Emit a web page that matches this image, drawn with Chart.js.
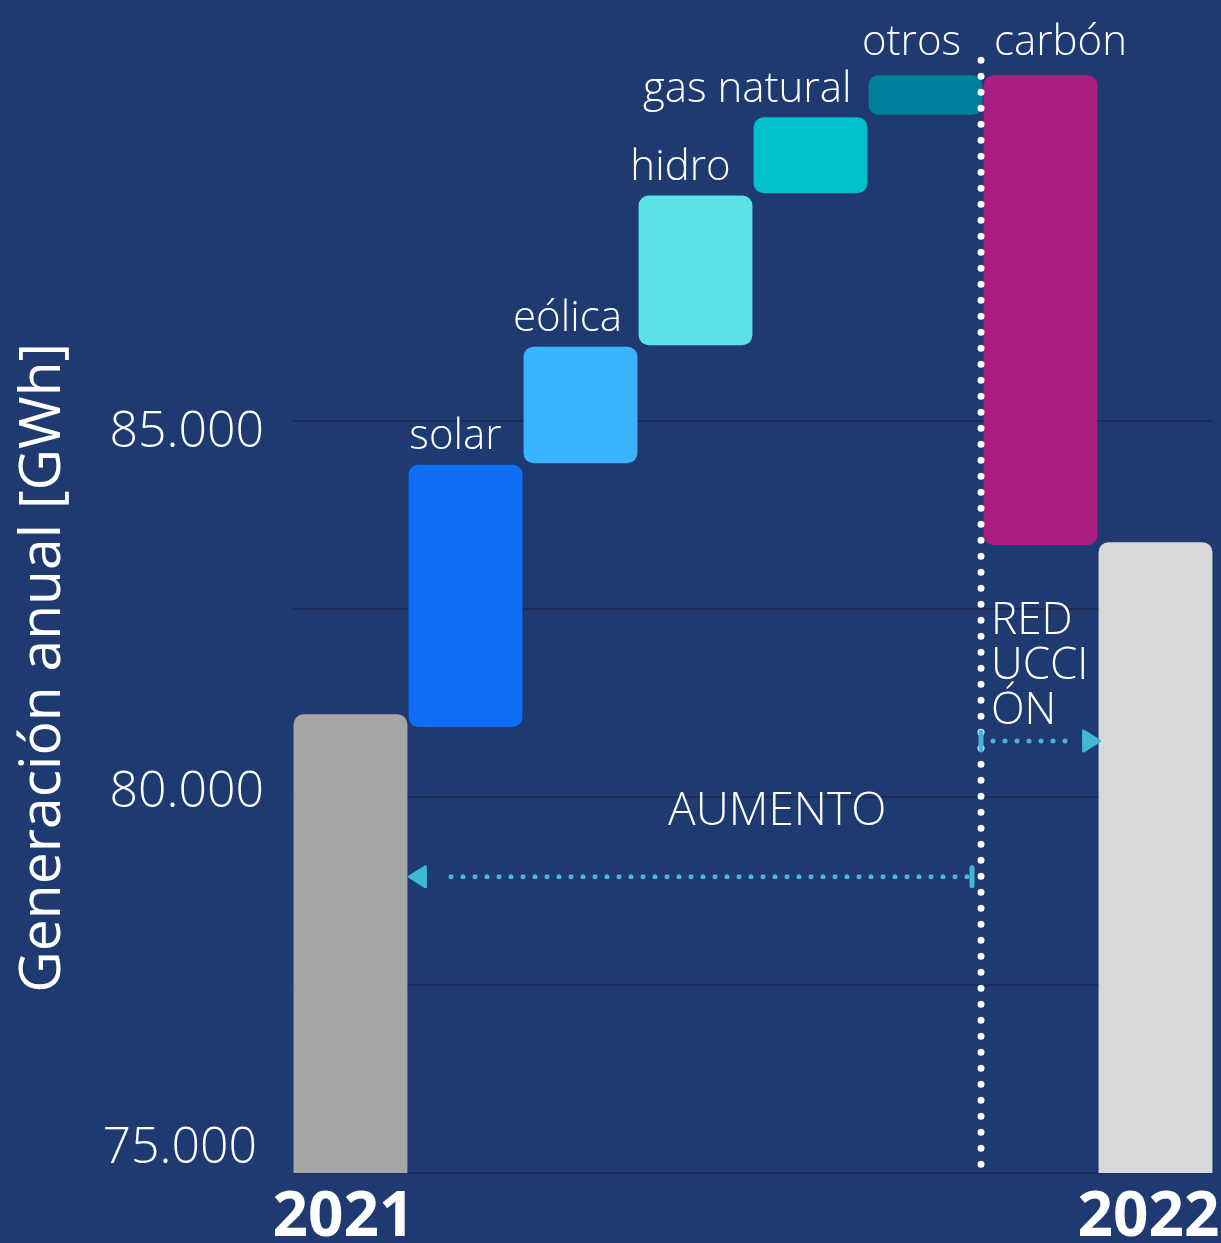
<!DOCTYPE html>
<html>
<head>
<meta charset="utf-8">
<script src="https://cdn.jsdelivr.net/npm/chart.js@4/dist/chart.umd.min.js"></script>
<style>
  html, body { margin: 0; padding: 0; background: #1f3a70; }
  #wrap { width: 1221px; height: 1243px; }
</style>
</head>
<body>
<div id="wrap"><canvas id="chart"></canvas></div>
<script>
// Generación anual 2021 -> 2022, cascada por fuente
const categories = ["2021", "solar", "eólica", "hidro", "gas natural", "otros", "carbón", "2022"];
const barStarts = [75000, 80930, 84440, 86010, 88030, 89070, 83350, 75000];
const barEnds = [81100, 84420, 85990, 88000, 89040, 89600, 89600, 83390];
const gridValues = [75000, 77500, 80000, 82500, 85000];
const yTickLabels = [75000, 80000, 85000];
const barColors = ["#a6a6a6", "#0f6ef5", "#39b4fe", "#5ce2e6", "#00c0cc", "#007f9a", "#a91e7f", "#d9d9d9"];

const bg = "#1f3a70";
const cyan = "#40b8d6";
const font = "'Open Sans', sans-serif";

// nudges for the hand-placed texts (px)
const labelDx = [0, -10, -13, -15, 0, -14, 20, 0];
const tickDx = { 75000: -5, 80000: 2, 85000: 2 };
const tickDy = { 75000: -24, 80000: -4, 85000: 12 };

const background = {
    id: "background",
    beforeDraw(chart) {
        const ctx = chart.ctx;
        ctx.save();
        ctx.fillStyle = bg;
        ctx.fillRect(0, 0, chart.width, chart.height);
        ctx.restore();
    }
};

function dotted(ctx, x1, y1, x2, y2, color, width, gap) {
    ctx.save();
    ctx.strokeStyle = color;
    ctx.lineWidth = width;
    ctx.lineCap = "round";
    ctx.setLineDash([0, gap]);
    ctx.beginPath();
    ctx.moveTo(x1, y1);
    ctx.lineTo(x2, y2);
    ctx.stroke();
    ctx.restore();
}

function arrowHead(ctx, tipX, y, dir) {
    ctx.save();
    ctx.fillStyle = cyan;
    ctx.strokeStyle = cyan;
    ctx.lineWidth = 3;
    ctx.lineJoin = "round";
    ctx.beginPath();
    ctx.moveTo(tipX, y);
    ctx.lineTo(tipX + dir * 16, y - 10);
    ctx.lineTo(tipX + dir * 16, y + 10);
    ctx.closePath();
    ctx.fill();
    ctx.stroke();
    ctx.restore();
}

function endBar(ctx, x, y) {
    ctx.save();
    ctx.strokeStyle = cyan;
    ctx.lineWidth = 5;
    ctx.lineCap = "round";
    ctx.beginPath();
    ctx.moveTo(x, y - 9);
    ctx.lineTo(x, y + 9);
    ctx.stroke();
    ctx.restore();
}

const annotations = {
    id: "annotations",
    afterDatasetsDraw(chart) {
        const ctx = chart.ctx;
        const x = chart.scales.x, y = chart.scales.y;
        const bars = chart.getDatasetMeta(0).data;

        // y tick labels
        ctx.save();
        ctx.fillStyle = "#ffffff";
        ctx.font = "300 50px " + font;
        ctx.textAlign = "right";
        ctx.textBaseline = "middle";
        yTickLabels.forEach(v => {
            ctx.fillText((v / 1000) + ".000", x.left - 31 + tickDx[v], y.getPixelForValue(v) + tickDy[v]);
        });
        ctx.restore();

        // category labels above the floating bars
        ctx.save();
        ctx.fillStyle = "#ffffff";
        ctx.font = "300 42px " + font;
        ctx.textBaseline = "alphabetic";
        for (let i = 1; i < 7; i++) {
            const b = bars[i];
            if (i === 4) {
                ctx.textAlign = "right";
                ctx.fillText(categories[i], b.x + b.width / 2 - 16, b.y - 15);
            } else {
                ctx.textAlign = "center";
                ctx.fillText(categories[i], b.x + labelDx[i], b.y - (i === 5 || i === 6 ? 20 : 16));
            }
        }
        ctx.restore();

        // divider between increases and reductions
        const divX = x.getPixelForValue(5.5) - 2;
        dotted(ctx, divX, y.getPixelForValue(89800), divX, y.bottom - 3, "#ffffff", 7, 16);

        // AUMENTO arrow
        const upY = y.getPixelForValue(78940);
        const left = bars[0].x + bars[0].width / 2 + 2;
        dotted(ctx, divX - 14, upY, left + 30, upY, cyan, 5, 12);
        arrowHead(ctx, left, upY, 1);
        endBar(ctx, divX - 9, upY);

        // REDUCCIÓN arrow
        const downY = y.getPixelForValue(80745);
        const right = bars[7].x - bars[7].width / 2 + 1;
        dotted(ctx, divX + 12, downY, right - 24, downY, cyan, 5, 12);
        arrowHead(ctx, right, downY, -1);
        endBar(ctx, divX, downY);

        ctx.save();
        ctx.fillStyle = "#ffffff";
        ctx.font = "300 46px " + font;
        ctx.textAlign = "center";
        ctx.textBaseline = "middle";
        ctx.fillText("AUMENTO", x.getPixelForValue(3.71), y.getPixelForValue(79800));
        ctx.font = "300 44px " + font;
        ctx.textAlign = "left";
        const rx = divX + 10;
        ["RED", "UCCI", "ÓN"].forEach((t, k) => {
            ctx.fillText(t, rx, y.getPixelForValue(82340) + k * 45);
        });
        ctx.restore();

        // y axis title
        ctx.save();
        ctx.translate(44, y.getPixelForValue(81720));
        ctx.rotate(-Math.PI / 2);
        ctx.fillStyle = "#ffffff";
        ctx.font = "400 57px " + font;
        ctx.textAlign = "center";
        ctx.textBaseline = "middle";
        ctx.fillText("Generación anual [GWh]", 0, 0);
        ctx.restore();
    }
};

new Chart(document.getElementById("chart"), {
    type: "bar",
    data: {
        labels: categories,
        datasets: [{
            data: barStarts.map((s, i) => [s, barEnds[i]]),
            backgroundColor: barColors,
            borderRadius: 10,
            borderSkipped: ctx => (ctx.dataIndex === 0 || ctx.dataIndex === 7) ? "start" : false,
            barPercentage: 0.99,
            categoryPercentage: 1
        }]
    },
    options: {
        responsive: true,
        maintainAspectRatio: false,
        animation: false,
        layout: { padding: { left: 0, right: 8, top: 0, bottom: 0 } },
        plugins: {
            legend: { display: false },
            tooltip: { enabled: false }
        },
        scales: {
            x: {
                grid: { display: false },
                border: { display: false },
                afterFit: s => {
                    s.height = 70;
                    s.paddingLeft = 0;
                    s.paddingRight = 0;
                },
                ticks: {
                    color: "#ffffff",
                    font: { family: font, size: 62, weight: "bold" },
                    padding: 0,
                    labelOffset: -7,
                    maxRotation: 0,
                    autoSkip: false,
                    callback: (v, i) => (i === 0 || i === 7) ? categories[i] : ""
                }
            },
            y: {
                min: 75000,
                max: 90600,
                afterBuildTicks: s => { s.ticks = gridValues.map(v => ({ value: v })); },
                afterFit: s => {
                    s.width = 293;
                    s.paddingTop = 0;
                    s.paddingBottom = 0;
                },
                border: { display: false },
                grid: {
                    drawTicks: false,
                    lineWidth: 2,
                    color: "#1a2c58"
                },
                ticks: {
                    padding: 31,
                    font: { family: font, size: 50, weight: 300 },
                    callback: () => ""
                }
            }
        }
    },
    plugins: [background, annotations]
});
</script>
</body>
</html>
